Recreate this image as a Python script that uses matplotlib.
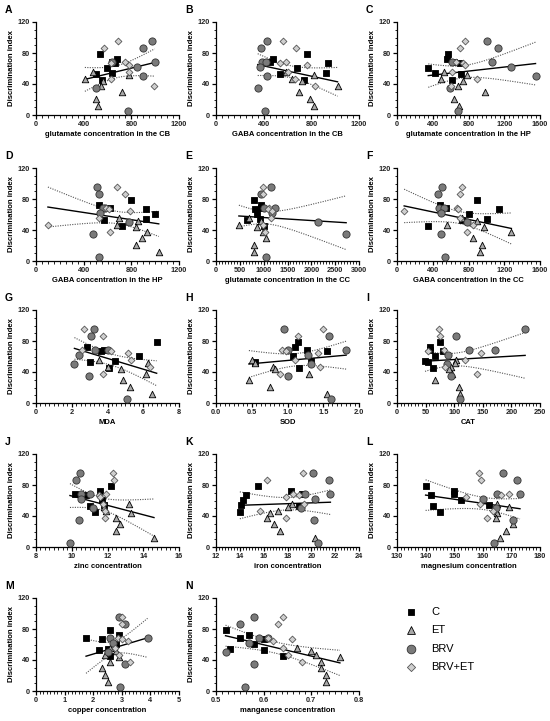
import matplotlib
matplotlib.use("Agg")
import matplotlib.pyplot as plt
import numpy as np
from matplotlib.ticker import MultipleLocator, AutoMinorLocator, FormatStrFormatter

plt.rcParams['font.family'] = ['Liberation Sans', 'DejaVu Sans']

# discrimination index per group (shared by all panels)
di_c = [79, 72, 68, 67, 61, 54, 53, 45]
di_et = [55, 52, 46, 44, 38, 30, 21, 11]
di_brv = [95, 87, 69, 68, 62, 50, 35, 5]
di_be = [96, 87, 69, 67, 64, 55, 47, 37]

groups = ['C', 'ET', 'BRV', 'BRV+ET']
letters = ['A', 'B', 'C', 'D', 'E', 'F', 'G', 'H', 'I', 'J', 'K', 'L', 'M', 'N']
xlabels = ['glutamate concentration in the CB', 'GABA concentration in the CB',
           'glutamate concentration in the HP', 'GABA concentration in the HP',
           'glutamate concentration in the CC', 'GABA concentration in the CC',
           'MDA', 'SOD', 'CAT', 'zinc concentration', 'iron concentration',
           'magnesium concentration', 'copper concentration', 'manganese concentration']

# x values per panel, same order as the di lists: C, ET, BRV, BRV+ET
x_c = [
    [540, 680, 640, 660, 595, 640, 500, 555],
    [760, 480, 450, 940, 680, 920, 540, 740],
    [570, 560, 640, 700, 350, 430, 720, 610],
    [800, 530, 620, 920, 1000, 920, 570, 720],
    [800, 950, 950, 820, 850, 920, 650, 1000],
    [900, 480, 550, 1140, 800, 1010, 730, 350],
    [6.75, 2.85, 3.8, 3.65, 5.75, 4.4, 3.0, 4.1],
    [1.15, 1.1, 1.27, 1.55, 1.07, 1.33, 0.55, 1.16],
    [75, 57, 58, 80, 66, 49, 55, 63],
    [12.2, 11.6, 10.2, 10.8, 11.7, 11.8, 11.0, 11.3],
    [15.5, 18.3, 19.2, 14.5, 14.3, 14.1, 19.0, 14.0],
    [140, 150, 150, 142, 152.5, 162, 142.5, 145],
    [2.6, 2.9, 1.75, 2.3, 2.8, 2.5, 2.2, 2.6],
    [0.52, 0.57, 0.55, 0.60, 0.58, 0.53, 0.60, 0.64],
]
x_et = [
    [480, 780, 410, 560, 545, 725, 505, 520],
    [590, 820, 640, 720, 1020, 700, 790, 820],
    [530, 780, 490, 740, 680, 980, 640, 690],
    [700, 860, 680, 840, 930, 890, 840, 1030],
    [700, 950, 480, 850, 980, 1040, 800, 800],
    [730, 900, 560, 970, 1280, 850, 950, 930],
    [3.55, 6.25, 4.0, 4.75, 6.15, 4.85, 5.25, 6.5],
    [0.5, 0.55, 0.8, 0.83, 1.3, 0.46, 0.75, 1.55],
    [103, 101, 95, 91, 97, 66, 109, 110],
    [13.2, 11.8, 11.9, 13.3, 12.5, 12.7, 12.5, 14.6],
    [18.4, 18.0, 17.2, 16.5, 16.3, 16.9, 17.4, 20.3],
    [165, 169, 164.5, 165, 164.5, 170.5, 168, 166],
    [2.6, 2.8, 2.4, 2.9, 2.6, 2.3, 2.4, 2.5],
    [0.67, 0.70, 0.71, 0.76, 0.72, 0.72, 0.73, 0.73],
]
x_brv = [
    [975, 900, 995, 640, 850, 895, 505, 775],
    [430, 380, 390, 420, 370, 430, 350, 410],
    [1010, 1130, 1060, 610, 1270, 1550, 590, 680],
    [510, 530, 580, 560, 540, 780, 480, 530],
    [1150, 950, 1000, 1240, 1180, 2150, 2730, 1050],
    [500, 460, 470, 530, 490, 780, 490, 540],
    [3.25, 3.05, 3.3, 4.0, 2.4, 2.15, 2.95, 5.1],
    [0.95, 1.58, 1.01, 1.82, 1.28, 1.33, 1.0, 1.61],
    [224, 104, 125, 172, 89, 87, 94, 110],
    [10.45, 10.25, 11.0, 10.5, 10.5, 11.2, 10.4, 9.9],
    [20.1, 21.5, 19.5, 21.6, 20.3, 19.1, 20.2, 20.6],
    [167, 172, 173, 165, 160, 164.5, 170.5, 164],
    [2.9, 3.1, 2.6, 3.9, 2.7, 2.5, 3.1, 2.95],
    [0.58, 0.55, 0.59, 0.61, 0.57, 0.52, 0.58, 0.56],
]
x_be = [
    [685, 570, 750, 630, 780, 780, 630, 990],
    [560, 670, 590, 540, 760, 600, 660, 830],
    [760, 700, 660, 740, 760, 610, 900, 600],
    [680, 750, 590, 610, 790, 530, 100, 620],
    [980, 980, 1120, 1100, 1170, 1150, 980, 1020],
    [730, 700, 670, 680, 80, 700, 850, 780],
    [2.7, 3.75, 2.6, 4.2, 5.15, 5.3, 6.35, 3.75],
    [1.5, 1.14, 0.93, 0.98, 1.42, 1.11, 1.46, 0.9],
    [74, 76, 83, 55, 147, 119, 84, 140],
    [12.3, 12.35, 11.9, 11.5, 11.6, 11.75, 11.85, 11.85],
    [19.3, 16.3, 18.5, 19.0, 17.9, 19.4, 15.7, 17.9],
    [158.5, 159.5, 169, 166.5, 154, 159, 163.5, 161.5],
    [3.0, 3.0, 2.85, 3.0, 3.2, 2.75, 2.9, 3.3],
    [0.64, 0.63, 0.61, 0.66, 0.62, 0.64, 0.65, 0.68],
]

# axis ranges and major tick step per panel
x_ranges = [(0, 1200, 400), (0, 1200, 400), (0, 1600, 400), (0, 1200, 400),
            (0, 3000, 500), (0, 1600, 400), (0, 8, 2), (0, 2, 0.5), (0, 250, 50),
            (8, 16, 2), (12, 24, 2), (130, 180, 10), (0, 5, 1), (0.5, 0.8, 0.1)]

styles = {
    'C': dict(marker='s', facecolor='black', edgecolor='black', s=17),
    'ET': dict(marker='^', facecolor='#a8a8a8', edgecolor='black', s=22),
    'BRV': dict(marker='o', facecolor='#7a7a7a', edgecolor='#333333', s=27),
    'BRV+ET': dict(marker='D', facecolor='#cfcfcf', edgecolor='#555555', s=12),
}

W, H = 550, 721
fig = plt.figure(figsize=(W / 100, H / 100), dpi=100)

col_left = [36, 216, 397]
row_top = [22, 168, 310, 454, 598]
ax_w, ax_h = 143, 93

handles = []
for i in range(14):
    r, c = divmod(i, 3)
    left, top = col_left[c], row_top[r]
    ax = fig.add_axes([left / W, 1 - (top + ax_h) / H, ax_w / W, ax_h / H])
    xs_all, ys_all = [], []
    for g, xs, ys in zip(groups, [x_c[i], x_et[i], x_brv[i], x_be[i]],
                         [di_c, di_et, di_brv, di_be]):
        h = ax.scatter(xs, ys, linewidths=0.6, zorder=3, clip_on=False, **styles[g])
        if i == 0:
            handles.append(h)
        xs_all += xs
        ys_all += ys
    # linear fit with 95% confidence band
    x = np.array(xs_all, float)
    y = np.array(ys_all, float)
    n = len(x)
    b, a = np.polyfit(x, y, 1)
    resid = y - (a + b * x)
    s = np.sqrt((resid ** 2).sum() / (n - 2))
    sxx = ((x - x.mean()) ** 2).sum()
    xf = np.linspace(x.min(), x.max(), 100)
    yf = a + b * xf
    ci = 2.04 * s * np.sqrt(1 / n + (xf - x.mean()) ** 2 / sxx)
    ax.plot(xf, yf, color='black', lw=1.0, zorder=2)
    ax.plot(xf, yf + ci, color='#555555', lw=0.8, ls=(0, (1, 1.2)), zorder=2)
    ax.plot(xf, yf - ci, color='#555555', lw=0.8, ls=(0, (1, 1.2)), zorder=2)

    x0, x1, step = x_ranges[i]
    ax.set_xlim(x0, x1)
    ax.set_ylim(0, 120)
    ax.xaxis.set_major_locator(MultipleLocator(step))
    ax.xaxis.set_minor_locator(AutoMinorLocator(8))
    ax.yaxis.set_major_locator(MultipleLocator(40))
    ax.yaxis.set_minor_locator(AutoMinorLocator(4))
    if step < 1:
        ax.xaxis.set_major_formatter(FormatStrFormatter('%.1f'))
    for sp in ['top', 'right']:
        ax.spines[sp].set_visible(False)
    for sp in ['left', 'bottom']:
        ax.spines[sp].set_linewidth(0.9)
    ax.tick_params(which='major', length=3, width=0.9, labelsize=5.3, pad=1.5,
                   labelcolor='#222222')
    ax.tick_params(which='minor', length=1.8, width=0.6)
    for lab in ax.get_xticklabels() + ax.get_yticklabels():
        lab.set_fontweight('bold')
    ax.set_xlabel(xlabels[i], fontsize=5.5, fontweight='bold', labelpad=2)
    ax.set_ylabel('Discrimination index', fontsize=5.6, fontweight='bold', labelpad=2)
    fig.text((left - 31) / W, 1 - (top - 12) / H, letters[i], fontsize=7.5,
             fontweight='bold', va='center', ha='left')

fig.legend(handles, groups, loc='upper left', bbox_to_anchor=(390 / W, 1 - 597 / H),
           frameon=False, fontsize=8, labelspacing=0.75, handletextpad=0.8,
           scatterpoints=1, markerscale=1.2)

fig.savefig('out.png', dpi=100)
